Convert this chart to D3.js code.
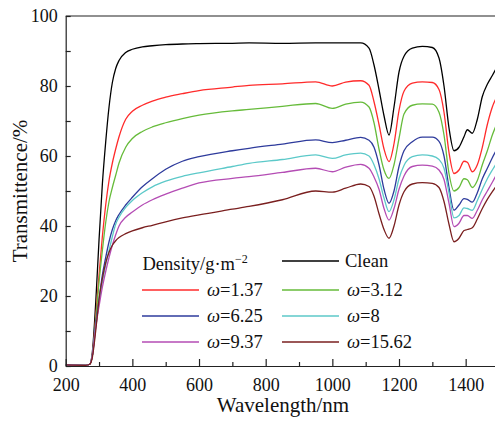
<!DOCTYPE html>
<html>
<head>
<meta charset="utf-8">
<script src="https://cdn.jsdelivr.net/npm/d3@7"></script>
<style>
body{margin:0;background:#fff;}
svg{display:block;}
</style>
</head>
<body>
<svg id="chart" width="495" height="421"></svg>
<script>
// wavelength grid (nm)
var wl = [200,260,272,280,290, 300,310,320,330,340, 350,360,380,400,430, 460,500,550,600,700,
	750,850,950,1000,1040, 1085,1110,1125,1140,1155, 1170,1185,1200,1215,1240, 1270,1300,1320,1335,1350,
	1365,1380,1395,1405,1420, 1435,1450,1465,1480,1500];

var clean = [0.3,0.2,0.5,4,18, 36,52,64,74,81, 85,87.3,89.6,90.5,91.2, 91.5,91.8,92,92.1,92.2,
	92.3,92.2,92.3,92.3,92.3, 92.3,90.8,86,79,71.5, 66,74,84,88.5,90.8, 91.3,91,88,80,68,
	61.5,62.5,65.5,67.5,66.5, 70.5,77,80.5,83,86.5];
var w137 = [0.3,0.2,0.5,3,14, 26,37,46,53,58, 62,65.5,70.5,72.8,74.5, 75.7,76.8,77.8,78.7,79.7,
	80.2,80.6,81.2,80,81.1, 81.5,80.2,75.5,69,62, 58.4,63.5,73,78.5,80.8, 81.2,81,79,72.5,61,
	55,56,58.5,58.2,55.5, 57.5,62.5,69,74,78];
var w312 = [0.3,0.2,0.5,3,13, 24,33,41,47,51, 54.5,58,62.5,65,67, 68.3,69.5,70.7,71.7,72.9,
	73.3,74.2,75,73.6,74.8, 75.4,74,69.5,62,56, 53.6,57.5,65,72,74.5, 74.9,74.8,72.5,66,55,
	50,51,53.5,53.2,51, 53,57.5,61.5,66,70.5];
var w625 = [0.3,0.2,0.5,3,12, 19,26,31,35.5,39, 41.5,43.3,46,48.2,51.2, 53.5,56.2,58.5,59.8,61.5,
	62.2,63.4,64.6,63.8,64.5, 65.3,64.5,62.5,57.5,50.5, 46.5,50,57,61.5,64.1, 65.4,65.4,64.2,60,51,
	44.5,46,47.8,47.6,46.8, 49.5,53.5,56.5,59.5,63];
var w8 = [0.3,0.2,0.5,3,11, 18,24,29,33,37, 40.5,42.5,45.3,47.3,49.5, 51.2,52.8,54.2,55.2,57,
	57.9,59,60.3,59.3,60.3, 60.8,60,57.5,53.5,48, 44.1,47.5,53.5,57.3,59.8, 60.3,60,59,56.5,49.5,
	42.3,43,45.2,45,44.5, 47.3,50.5,53.5,56,59];
var w937 = [0.3,0.2,0.5,3,11, 17,22.5,27,31,34.5, 37.5,40,42.5,44,46, 47.5,49.1,50.8,52.3,53.6,
	54.1,55.3,56.5,55.5,56.8, 57.6,56.5,54,50.5,45, 41.7,45,50.5,54.3,57, 57.4,57.1,56,53.3,46.5,
	39.8,40.8,43,43,42.2, 44.5,47.5,50,52.5,56];
var w1562 = [0.3,0.2,0.5,2.5,10, 19,25,29.5,32.5,34.5, 35.8,36.7,37.8,38.6,39.5, 40.2,41.2,42.3,43.2,44.8,
	45.6,47.5,50,49.7,50.8, 52,51.3,48.5,43.5,39, 36.5,40,46,49.8,52, 52.4,52.2,51,47,40.5,
	35.5,36.5,38.7,39,39.5, 42,45,47.6,49.8,52.5];

var names = ["Clean","1.37","3.12","6.25","8","9.37","15.62"];
var colors = ["#000000","#ff2b2b","#66bb3a","#2e3b9c","#5cc9c9","#b44cb4","#7a1f1f"];
var values = [clean,w137,w312,w625,w8,w937,w1562];

var xTicks = [200,400,600,800,1000,1200,1400];
var yTicks = [0,20,40,60,80,100];

var svg = d3.select("#chart");
var x = d3.scaleLinear().domain([200,1500]).range([65.7,499]);
var y = d3.scaleLinear().domain([0,100]).range([366,16]);

svg.append("clipPath").attr("id","clip").append("rect")
	.attr("x",65.7).attr("y",16).attr("width",433.3).attr("height",350);

// curves
var line = d3.line().x(d=>x(d[0])).y(d=>y(d[1])).curve(d3.curveMonotoneX);
var g = svg.append("g").attr("clip-path","url(#clip)");
values.forEach(function(v,i){
	g.append("path").datum(wl.map((w,j)=>[w,v[j]]))
	.attr("d",line).attr("fill","none")
	.attr("stroke",colors[i]).attr("stroke-width",1.3);
});

// axes, ticks inward
svg.append("g").attr("transform","translate(0,366)")
	.call(d3.axisBottom(x).tickValues(xTicks).tickFormat(d3.format("d")).tickSizeInner(-7).tickSizeOuter(0).tickPadding(12));
svg.append("g").attr("transform","translate(0,366)")
	.call(d3.axisBottom(x).tickValues(d3.range(300,1500,200)).tickFormat("").tickSizeInner(-4).tickSizeOuter(0))
	.select(".domain").remove();
svg.append("g").attr("transform","translate(65.7,0)")
	.call(d3.axisLeft(y).tickValues(yTicks).tickSizeInner(-5).tickSizeOuter(0).tickPadding(8));
svg.append("g").attr("transform","translate(65.7,0)")
	.call(d3.axisLeft(y).tickValues(d3.range(10,100,20)).tickFormat("").tickSizeInner(-5).tickSizeOuter(0))
	.select(".domain").remove();
svg.selectAll(".tick text").attr("font-size",18).attr("fill","#111");
svg.selectAll(".domain,.tick line").attr("stroke","#222").attr("stroke-width",1.2);

// frame top
svg.append("line").attr("x1",65.7).attr("x2",499).attr("y1",16).attr("y2",16)
	.attr("stroke","#222").attr("stroke-width",1.2);

// axis titles
svg.append("text").attr("x",283).attr("y",412).attr("text-anchor","middle")
	.attr("font-size",21).attr("fill","#111").text("Wavelength/nm");
svg.append("text").attr("transform","translate(27,191) rotate(-90)").attr("text-anchor","middle")
	.attr("font-size",21).attr("fill","#111").text("Transmittence/%");

// legend
var lg = svg.append("g").attr("font-size",18.5).attr("fill","#111");
var ttl = lg.append("text").attr("x",142.5).attr("y",269.5).text("Density/g·m");
ttl.append("tspan").attr("font-size",12).attr("dy",-7).text("−2");

var slots = [[282,261],[142,290],[282,290],[142,316],[282,316],[142,342],[282,342]];
names.forEach(function(n,i){
	var s = slots[i];
	lg.append("line").attr("x1",s[0]).attr("x2",s[0]+57).attr("y1",s[1]).attr("y2",s[1])
		.attr("stroke",colors[i]).attr("stroke-width",1.3);
	var t = lg.append("text").attr("x",s[0]+(i==0?63:65)).attr("y",s[1]+6);
	if(i==0) t.text(n);
	else {
		t.append("tspan").attr("font-style","italic").text("ω");
		t.append("tspan").text("="+n);
	}
});
svg.selectAll("text").style("font-family","Liberation Serif");
</script>
</body>
</html>
